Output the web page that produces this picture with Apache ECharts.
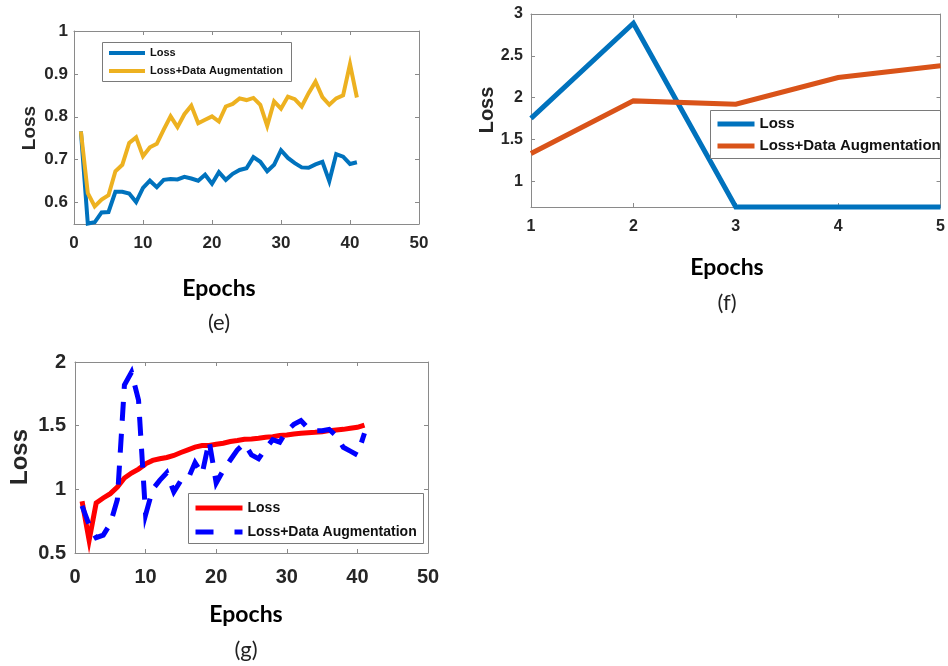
<!DOCTYPE html>
<html>
<head>
<meta charset="utf-8">
<script src="https://cdn.jsdelivr.net/npm/echarts@6/dist/echarts.min.js"></script>
<style>
html,body{margin:0;padding:0;background:#fff;}
#chart{width:948px;height:666px;}
</style>
</head>
<body>
<div id="chart"></div>
<script>
// ---------- data ----------
const epochs41 = [1,2,3,4,5,6,7,8,9,10,11,12,13,14,15,16,17,18,19,20,21,22,23,24,25,26,27,28,29,30,31,32,33,34,35,36,37,38,39,40,41];
const eLoss = [0.766,0.551,0.554,0.577,0.578,0.625,0.625,0.621,0.601,0.634,0.651,0.636,0.653,0.655,0.654,0.660,0.656,0.651,0.665,0.644,0.671,0.653,0.667,0.676,0.680,0.706,0.695,0.673,0.688,0.722,0.704,0.692,0.682,0.681,0.689,0.695,0.650,0.713,0.707,0.690,0.694];
const eAug = [0.766,0.622,0.591,0.607,0.617,0.673,0.688,0.739,0.752,0.708,0.729,0.737,0.770,0.801,0.776,0.806,0.826,0.785,0.793,0.801,0.789,0.824,0.830,0.843,0.839,0.844,0.828,0.779,0.836,0.819,0.847,0.841,0.824,0.855,0.882,0.846,0.828,0.843,0.850,0.923,0.845];
const fEpochs = [1,2,3,4,5];
const fLoss = [1.75,2.89,0.69,0.69,0.69];
const fAug = [1.33,1.96,1.92,2.24,2.38];
const gLoss = [0.906,0.6,0.893,0.932,0.966,1.018,1.089,1.128,1.159,1.2,1.227,1.24,1.25,1.266,1.289,1.31,1.331,1.344,1.344,1.354,1.362,1.375,1.383,1.393,1.396,1.401,1.409,1.414,1.422,1.427,1.435,1.44,1.445,1.448,1.453,1.461,1.466,1.471,1.479,1.487,1.505];
const gAug = [0.87,0.72,0.62,0.64,0.73,0.92,1.82,1.92,1.7,0.8,1.0,1.07,1.13,0.98,1.07,1.08,1.21,1.12,1.38,1.05,1.15,1.23,1.31,1.36,1.27,1.24,1.32,1.39,1.37,1.46,1.51,1.54,1.48,1.46,1.46,1.47,1.42,1.33,1.30,1.27,1.44];

const eXTicks = [0,10,20,30,40,50];
const eYTicks = [0.6,0.7,0.8,0.9,1];
const fXTicks = [1,2,3,4,5];
const fYTicks = [1,1.5,2,2.5,3];
const gXTicks = [0,10,20,30,40,50];
const gYTicks = [0.5,1,1.5,2];

const seriesNames = {eLoss:'Loss', eAug:'Loss+Data Augmentation', fLoss:'Loss', fAug:'Loss+Data Augmentation', gLoss:'Loss', gAug:'Loss+Data Augmentation'};
const panelTitles = ['(e)','(f)','(g)'];

// ---------- helpers ----------
const zip = (xs, ys) => xs.map((x, i) => [x, ys[i]]);
const BOX = '#8a8a8a';
const LBL = '#262626';

function axis(grid, min, max, ticks, position, fontSize, margin) {
  const showLabel = (position === 'bottom' || position === 'left');
  return {
    type: 'value', gridIndex: grid, position: position, min: min, max: max,
    axisLine: {show: true, onZero: false, lineStyle: {color: BOX, width: 1}},
    axisTick: {show: true, inside: true, length: 4, customValues: ticks, lineStyle: {color: BOX}},
    axisLabel: {show: showLabel, customValues: ticks, margin: margin, color: LBL,
      fontFamily: 'Liberation Sans', fontWeight: 'bold', fontSize: fontSize},
    splitLine: {show: false}
  };
}

const xAxes = [
  axis(0,0,50,eXTicks,'bottom',17,11), axis(0,0,50,eXTicks,'top',17,8),
  axis(1,1,5,fXTicks,'bottom',16,12),  axis(1,1,5,fXTicks,'top',16,8),
  axis(2,0,50,gXTicks,'bottom',20,14), axis(2,0,50,gXTicks,'top',20,8)
];
const yAxes = [
  axis(0,0.55,1,eYTicks,'left',17,6),  axis(0,0.55,1,eYTicks,'right',17,6),
  axis(1,0.69,3,fYTicks,'left',16,8),  axis(1,0.69,3,fYTicks,'right',16,8),
  axis(2,0.5,2,gYTicks,'left',20,9),   axis(2,0.5,2,gYTicks,'right',20,9)
];

function line(name, xi, yi, xs, ys, color, width, dash, clip) {
  return {
    type: 'line', name: name, xAxisIndex: xi, yAxisIndex: yi,
    data: zip(xs, ys), symbol: 'none', clip: clip,
    lineStyle: {color: color, width: width, type: dash || 'solid', cap: 'butt', join: 'miter'},
    itemStyle: {color: color}, z: 2
  };
}

const series = [
  line('eLoss',0,0,epochs41,eLoss,'#0072BD',4,null,true),
  line('eAug',0,0,epochs41,eAug,'#EDB120',4,null,true),
  line('fLoss',2,2,fEpochs,fLoss,'#0072BD',5,null,false),
  line('fAug',2,2,fEpochs,fAug,'#D95319',5,null,false),
  line('gLoss',4,4,epochs41,gLoss,'#FF0000',5,null,true),
  line('gAug',4,4,epochs41,gAug,'#0000FF',5,[19,13],true)
];

const hiddenSymbol = {color:'rgba(0,0,0,0)', borderWidth:0, opacity:0};

const legends = [
  {show:true, orient:'vertical', left:107, top:47, padding:0, itemWidth:36, itemHeight:12, itemGap:6, selectedMode:false,
   data:['eLoss','eAug'], lineStyle:{width:4}, itemStyle:hiddenSymbol, formatter:n=>seriesNames[n],
   textStyle:{fontFamily:'Liberation Sans', fontWeight:'bold', fontSize:11, lineHeight:12, color:'#111'}, z:5},
  {show:true, orient:'vertical', left:715, top:116, padding:0, itemWidth:37, itemHeight:16, itemGap:6, selectedMode:false,
   data:['fLoss','fAug'], lineStyle:{width:5}, itemStyle:hiddenSymbol, formatter:n=>seriesNames[n],
   textStyle:{fontFamily:'Liberation Sans', fontWeight:'bold', fontSize:15, lineHeight:16, color:'#111'}, z:5},
  {show:true, orient:'vertical', left:193, top:500, padding:0, itemWidth:47, itemHeight:16, itemGap:8, selectedMode:false,
   data:['gLoss', {name:'gAug', lineStyle:{type:[18,21]}}], lineStyle:{width:5}, itemStyle:hiddenSymbol, formatter:n=>seriesNames[n],
   textStyle:{fontFamily:'Liberation Sans', fontWeight:'bold', fontSize:14, lineHeight:16, color:'#111'}, z:5}
];

function txt(t, x, y, font, rot, color) {
  return {type:'text', x:x, y:y, rotation: rot || 0, z: 10,
    style:{text:t, font:font, fill: color || '#000', align:'center', verticalAlign:'middle', textAlign:'center', textVerticalAlign:'middle'}};
}
function box(x, y, w, h) {
  return {type:'rect', z: 3, shape:{x:x, y:y, width:w, height:h},
    style:{fill:'#fff', stroke:'#7a7a7a', lineWidth:1}};
}

const graphics = [
  box(102.5, 42.5, 189, 39),
  box(710.5, 110.5, 230, 48),
  box(188.5, 493.5, 235, 50),
  txt('Loss', 30, 128, 'bold 19px "Liberation Sans"', Math.PI/2, LBL),
  txt('Loss', 487, 110, 'bold 20px "Liberation Sans"', Math.PI/2, LBL),
  txt('Loss', 20, 457, 'bold 24px "Liberation Sans"', Math.PI/2, LBL),
  txt('Epochs', 219, 289, 'bold 23px Lato', 0, '#000'),
  txt('Epochs', 727, 268, 'bold 23px Lato', 0, '#000'),
  txt('Epochs', 246, 615, 'bold 23px Lato', 0, '#000'),
  txt(panelTitles[0], 219, 323, '22px Lato', 0, '#222'),
  txt(panelTitles[1], 727, 303, '22px Lato', 0, '#222'),
  txt(panelTitles[2], 246, 650, '22px Lato', 0, '#222')
];

const chart = echarts.init(document.getElementById('chart'), null, {renderer:'canvas'});
chart.setOption({
  animation: false,
  backgroundColor: '#fff',
  grid: [
    {left:74, top:31, width:345, height:193, containLabel:false},
    {left:531, top:14, width:410, height:193, containLabel:false},
    {left:75, top:362, width:353, height:191, containLabel:false}
  ],
  xAxis: xAxes,
  yAxis: yAxes,
  legend: legends,
  series: series,
  graphic: graphics
});
</script>
</body>
</html>
